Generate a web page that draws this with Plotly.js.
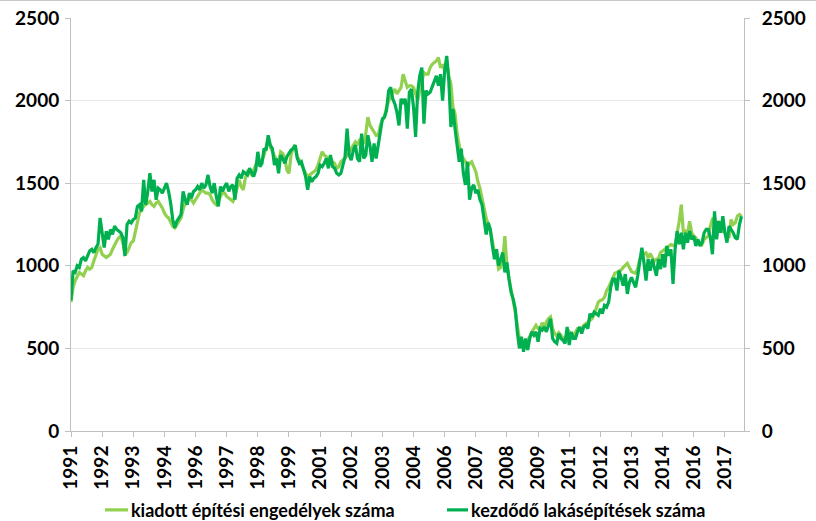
<!DOCTYPE html>
<html>
<head>
<meta charset="utf-8">
<script src="https://cdn.plot.ly/plotly-3.0.1.min.js"></script>
<style>
html,body{margin:0;padding:0;background:#fff;}
#wrap{width:816px;height:521px;box-sizing:border-box;border-top:1px solid #c8c8c8;}
#chart{width:816px;height:520px;}
</style>
</head>
<body>
<div id="wrap"><div id="chart"></div></div>
<script>
// Monthly categories, 1991-01 .. 2017-12
const months = [];
for (let y = 1991; y <= 2017; y++) {
  for (let m = 1; m <= 12; m++) months.push(y + '-' + (m < 10 ? '0' + m : m));
}
const tickMonths = ['1991-01','1992-04','1993-07','1994-10','1996-01','1997-04','1998-07','1999-10',
  '2001-01','2002-04','2003-07','2004-10','2006-01','2007-04','2008-07','2009-10',
  '2011-01','2012-04','2013-07','2014-10','2016-01','2017-04'];
const tickLabels = ['1991','1992','1993','1994','1996','1997','1998','1999','2001','2002','2003',
  '2004','2006','2007','2008','2009','2011','2012','2013','2014','2016','2017'];

const seriesNames = ['kiadott építési engedélyek száma', 'kezdődő lakásépítések száma'];
const seriesColors = ['#92D050', '#00B050'];

// kiadott építési engedélyek száma
const permits = [
  780,870,910,940,960,950,940,970,990,980,
  990,1030,1060,1100,1110,1070,1060,1050,1060,1070,
  1100,1130,1150,1170,1180,1140,1070,1080,1110,1140,
  1150,1210,1250,1320,1340,1360,1370,1380,1390,1370,
  1360,1380,1390,1370,1350,1320,1300,1290,1260,1240,
  1230,1250,1270,1290,1340,1380,1390,1410,1400,1380,
  1400,1420,1440,1460,1450,1440,1440,1430,1400,1380,
  1370,1400,1420,1440,1440,1420,1410,1400,1390,1420,
  1480,1520,1480,1460,1530,1570,1560,1550,1580,1610,
  1640,1640,1640,1670,1720,1770,1720,1690,1670,1640,
  1630,1690,1680,1650,1580,1560,1670,1710,1730,1660,
  1640,1610,1580,1560,1540,1550,1560,1570,1580,1610,
  1650,1690,1670,1660,1650,1650,1630,1620,1590,1600,
  1630,1640,1650,1670,1690,1710,1730,1750,1730,1760,
  1770,1740,1800,1900,1850,1830,1810,1790,1790,1850,
  1880,1900,1960,2000,2030,2050,2070,2040,2060,2080,
  2160,2120,2080,2090,2090,2080,2040,2000,2060,2120,
  2170,2160,2160,2200,2220,2230,2240,2260,2200,2220,
  2180,2240,2150,2100,1960,1920,1800,1730,1670,1650,
  1630,1600,1620,1630,1600,1570,1510,1470,1410,1340,
  1290,1250,1210,1150,1080,1060,980,990,1040,1180,
  1000,920,840,790,720,640,560,540,520,520,
  550,580,600,620,640,620,615,655,630,660,
  680,690,620,590,575,595,580,555,565,580,
  600,580,575,600,620,620,615,640,650,660,
  670,680,705,750,780,790,795,810,850,870,
  900,930,955,960,965,975,990,1006,1015,990,
  965,960,955,985,1040,1068,1075,1078,1047,1075,
  1050,1027,1040,1047,1080,1090,1098,1110,1120,1129,
  1125,1120,1200,1270,1370,1200,1210,1190,1270,1200,
  1180,1170,1150,1140,1130,1160,1170,1180,1240,1283,
  1290,1242,1270,1240,1210,1200,1180,1170,1280,1250,
  1260,1300,1310,1300
];

// kezdődő lakásépítések száma
const starts = [
  790,970,960,1000,990,1040,1050,1030,1060,1090,
  1100,1080,1110,1130,1290,1180,1110,1210,1160,1220,
  1190,1240,1220,1210,1200,1170,1060,1250,1270,1260,
  1280,1290,1360,1370,1330,1520,1370,1450,1560,1450,
  1520,1400,1470,1460,1440,1470,1500,1450,1380,1280,
  1230,1270,1290,1310,1450,1400,1370,1440,1410,1450,
  1460,1480,1460,1500,1470,1490,1550,1480,1440,1500,
  1420,1360,1480,1450,1480,1500,1450,1480,1490,1400,
  1530,1550,1530,1570,1560,1550,1590,1560,1540,1580,
  1690,1600,1620,1710,1700,1790,1730,1710,1610,1650,
  1560,1670,1650,1620,1660,1680,1700,1710,1730,1650,
  1620,1630,1590,1540,1460,1540,1510,1530,1540,1560,
  1610,1600,1620,1650,1590,1670,1600,1590,1560,1550,
  1560,1610,1660,1830,1670,1640,1700,1730,1650,1630,
  1800,1650,1670,1790,1730,1630,1740,1650,1740,1830,
  1890,1900,1940,2060,2080,2010,1980,1930,1850,2010,
  1990,2010,1830,2050,2070,1960,1780,2050,2150,2200,
  1860,2060,2040,2050,2080,2120,2150,2090,2160,2000,
  2180,2270,2120,1840,1950,1830,1730,1630,1710,1560,
  1490,1630,1400,1470,1490,1440,1460,1400,1370,1290,
  1190,1260,1220,1120,1040,1100,1000,1040,1080,960,
  1020,920,840,800,740,600,500,570,480,560,
  490,560,600,580,600,540,620,610,630,600,
  640,680,560,540,530,590,560,550,530,630,
  520,600,560,560,600,630,590,630,640,620,
  710,690,720,710,700,740,710,760,750,780,
  870,920,920,850,970,930,880,950,830,900,
  930,900,870,940,1020,1110,1020,910,1040,970,
  1040,990,940,1040,980,1070,990,1120,1060,1100,
  890,1100,1210,1130,1200,1100,1200,1140,1210,1160,
  1180,1120,1160,1120,1140,1200,1220,1220,1170,1070,
  1330,1160,1270,1200,1300,1200,1140,1240,1220,1200,
  1170,1160,1250,1300
];

const FONT = 'Lato, "Open Sans", sans-serif';

const traces = [
  {x: months, y: permits, name: seriesNames[0], type: 'scatter', mode: 'lines',
   line: {color: seriesColors[0], width: 3.2}, showlegend: false},
  {x: months, y: starts, name: seriesNames[1], type: 'scatter', mode: 'lines',
   line: {color: seriesColors[1], width: 3.2}, showlegend: false},
  // empty trace so the right-hand axis is drawn
  {x: [], y: [], yaxis: 'y2', type: 'scatter', mode: 'lines', showlegend: false, hoverinfo: 'skip'}
];

const yTicks = [0, 500, 1000, 1500, 2000, 2500];
const tickFont = {family: FONT, size: 19, color: '#000', weight: 'bold'};

// legend drawn as shapes + annotations (paper coordinates)
const legendY = -0.191;
const legendItems = [
  {x0: 0.0505, x1: 0.0847, tx: 0.0862},
  {x0: 0.5587, x1: 0.5899, tx: 0.5914}
];
const shapes = legendItems.map((it, k) => ({
  type: 'line', xref: 'paper', yref: 'paper', x0: it.x0, x1: it.x1, y0: legendY, y1: legendY,
  line: {color: seriesColors[k], width: 3.2}
}));
const annotations = legendItems.map((it, k) => ({
  xref: 'paper', yref: 'paper', x: it.tx, y: legendY, xanchor: 'left', yanchor: 'middle',
  text: seriesNames[k], showarrow: false,
  font: {family: FONT, size: 18, color: '#000', weight: 'bold'}
}));

const layout = {
  width: 816, height: 520,
  margin: {l: 71, r: 72, t: 17, b: 90, autoexpand: false},
  paper_bgcolor: '#ffffff', plot_bgcolor: '#ffffff',
  font: {family: FONT, color: '#000'},
  showlegend: false,
  shapes: shapes,
  annotations: annotations,
  xaxis: {
    type: 'category', categoryorder: 'array', categoryarray: months,
    range: [0, 324.2],
    tickmode: 'array', tickvals: tickMonths, ticktext: tickLabels,
    tickangle: -90, ticks: 'outside', ticklen: 5, tickcolor: '#bfbfbf',
    showline: true, linecolor: '#bfbfbf', linewidth: 1,
    showgrid: false, zeroline: false, ticklabelstandoff: 1,
    tickfont: tickFont
  },
  yaxis: {
    range: [0, 2500], tickmode: 'array', tickvals: yTicks,
    ticks: 'outside', ticklen: 5, tickcolor: '#bfbfbf',
    showline: true, linecolor: '#bfbfbf', linewidth: 1,
    showgrid: true, gridcolor: '#e8e8e8', gridwidth: 1, zeroline: false,
    ticklabelstandoff: 2,
    tickfont: tickFont
  },
  yaxis2: {
    overlaying: 'y', side: 'right', range: [0, 2500],
    tickmode: 'array', tickvals: yTicks,
    ticks: 'outside', ticklen: 5, tickcolor: '#bfbfbf',
    showline: true, linecolor: '#bfbfbf', linewidth: 1,
    showgrid: false, zeroline: false,
    ticklabelstandoff: 8,
    tickfont: tickFont
  }
};

Plotly.newPlot('chart', traces, layout, {displayModeBar: false, staticPlot: true});
</script>
</body>
</html>
